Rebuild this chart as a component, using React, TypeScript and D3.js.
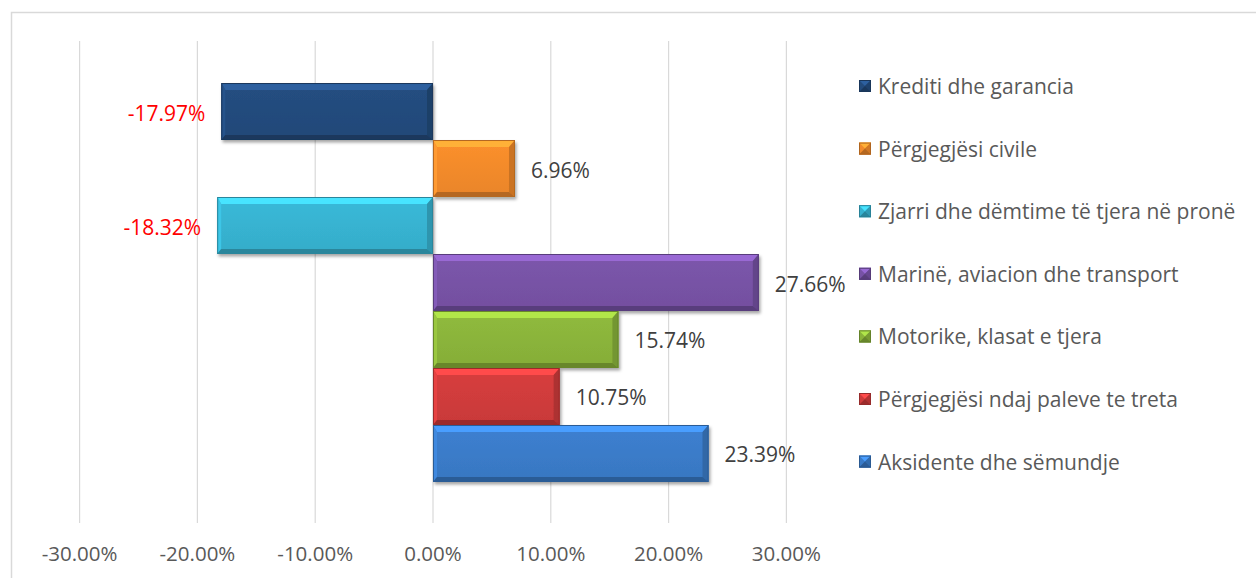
import React from 'react';
import * as d3 from 'd3';

const W = 1256;
const H = 578;

// categories from top to bottom
const categories = [
  'Krediti dhe garancia',
  'Përgjegjësi civile',
  'Zjarri dhe dëmtime të tjera në pronë',
  'Marinë, aviacion dhe transport',
  'Motorike, klasat e tjera',
  'Përgjegjësi ndaj paleve te treta',
  'Aksidente dhe sëmundje',
];
const values = [-17.97, 6.96, -18.32, 27.66, 15.74, 10.75, 23.39];
const colors = ['#234b7c', '#f18a2b', '#37b2d0', '#7752a5', '#8ab33a', '#cf3b3b', '#3a7bc8'];
const ticks = [-30, -20, -10, 0, 10, 20, 30];

const FONT = '"Open Sans", "Noto Sans", sans-serif';

const x = d3.scaleLinear().domain([-30, 30]).range([79.6, 786.4]);
const y = d3.scaleBand<string>().domain(categories).range([41, 524]).paddingInner(0).paddingOuter(0.737);

function pts(p: number[][]) {
  return p.map(d => d.join(',')).join(' ');
}

function Bevel({ x0, x1, y0, y1, color, id }: { x0: number; x1: number; y0: number; y1: number; color: string; id: string }) {
  const t = 7, b = 5, l = 4, r = 6;
  const c = d3.color(color)!;
  const light = c.brighter(0.7).formatHex();
  const midLight = c.brighter(0.3).formatHex();
  const dark = c.darker(0.5).formatHex();
  const darker = c.darker(0.8).formatHex();
  return (
    <g filter="url(#shadow)">
      <defs>
        <linearGradient id={id} x1="0" x2="0" y1="0" y2="1">
          <stop offset="0" stopColor={c.brighter(0.12).formatHex()} />
          <stop offset="1" stopColor={c.darker(0.1).formatHex()} />
        </linearGradient>
      </defs>
      <rect x={x0} y={y0} width={x1 - x0} height={y1 - y0} fill={`url(#${id})`} />
      <polygon points={pts([[x0, y0], [x1, y0], [x1 - r, y0 + t], [x0 + l, y0 + t]])} fill={light} />
      <polygon points={pts([[x0, y0], [x0 + l, y0 + t], [x0 + l, y1 - b], [x0, y1]])} fill={midLight} />
      <polygon points={pts([[x1, y0], [x1 - r, y0 + t], [x1 - r, y1 - b], [x1, y1]])} fill={dark} />
      <polygon points={pts([[x0, y1], [x1, y1], [x1 - r, y1 - b], [x0 + l, y1 - b]])} fill={darker} />
      <rect x={x0 + 0.5} y={y0 + 0.5} width={x1 - x0 - 1} height={y1 - y0 - 1} fill="none" stroke={darker} strokeWidth={1} />
    </g>
  );
}

function Marker({ cx, cy, color }: { cx: number; cy: number; color: string }) {
  const s = 12;
  const x0 = cx - s / 2, x1 = cx + s / 2, y0 = cy - s / 2, y1 = cy + s / 2;
  const c = d3.color(color)!;
  return (
    <g>
      <rect x={x0} y={y0} width={s} height={s} fill={color} />
      <polygon points={pts([[x0, y0], [x1, y0], [cx, cy]])} fill={c.brighter(0.7).formatHex()} />
      <polygon points={pts([[x1, y0], [x1, y1], [cx, cy]])} fill={c.darker(0.4).formatHex()} />
      <polygon points={pts([[x0, y1], [x1, y1], [cx, cy]])} fill={c.darker(0.8).formatHex()} />
      <rect x={x0 + 0.5} y={y0 + 0.5} width={s - 1} height={s - 1} fill="none" stroke={c.darker(0.9).formatHex()} strokeWidth={1} />
    </g>
  );
}

export default function App() {
  return (
    <svg width={W} height={H} style={{ position: 'absolute', left: 0, top: 0, background: '#fff' }}>
      <defs>
        <filter id="shadow" x="-5%" y="-20%" width="115%" height="150%">
          <feDropShadow dx="1.5" dy="2.5" stdDeviation="1.8" floodColor="#000" floodOpacity="0.35" />
        </filter>
      </defs>
      <rect x={11.5} y={12.5} width={W + 20} height={H + 20} fill="#fff" stroke="#d9d9d9" strokeWidth={1.5} />

      {ticks.map(t => (
        <g key={t}>
          <line x1={x(t)} x2={x(t)} y1={41} y2={523} stroke="#d9d9d9" strokeWidth={1.2} />
          <text x={x(t)} y={553} textAnchor="middle" dominantBaseline="central" fill="#595959" fontSize={20.5} fontFamily={FONT}>
            {t.toFixed(2) + '%'}
          </text>
        </g>
      ))}

      {categories.map((c, i) => {
        const v = values[i];
        const y0 = y(c)!;
        const y1 = y0 + y.bandwidth();
        const xa = x(Math.min(0, v));
        const xb = x(Math.max(0, v));
        return <Bevel key={c} id={`g${i}`} x0={xa} x1={xb} y0={y0} y1={y1} color={colors[i]} />;
      })}

      {categories.map((c, i) => {
        const v = values[i];
        const cy = y(c)! + y.bandwidth() / 2 + 1;
        const neg = v < 0;
        return (
          <text
            key={c}
            x={neg ? x(v) - 16 : x(v) + 16}
            y={cy}
            textAnchor={neg ? 'end' : 'start'}
            dominantBaseline="central"
            fill={neg ? '#ff0000' : '#404040'}
            fontSize={21}
            fontFamily={FONT}
          >
            {v.toFixed(2) + '%'}
          </text>
        );
      })}

      {categories.map((c, i) => {
        const cy = 86 + i * 62.6;
        return (
          <g key={c}>
            <Marker cx={865} cy={cy} color={colors[i]} />
            <text x={878} y={cy} dominantBaseline="central" fill="#595959" fontSize={21} fontFamily={FONT}>
              {c}
            </text>
          </g>
        );
      })}
    </svg>
  );
}
